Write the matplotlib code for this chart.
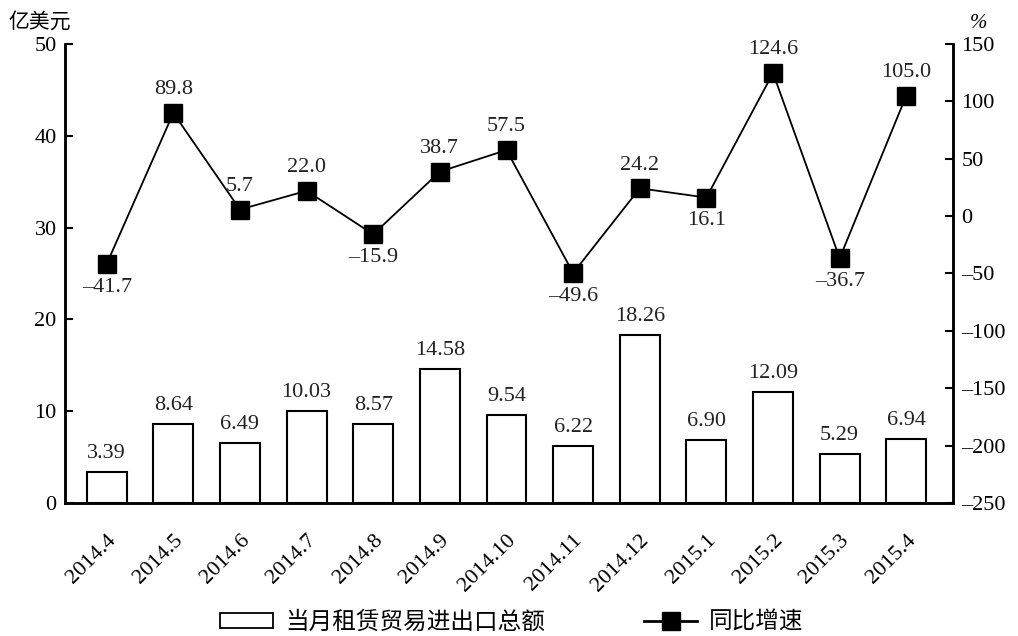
import matplotlib
matplotlib.use("Agg")
import matplotlib.pyplot as plt
from matplotlib.patches import Rectangle
from matplotlib.lines import Line2D
import numpy as np

months = ["2014.4", "2014.5", "2014.6", "2014.7", "2014.8", "2014.9", "2014.10",
          "2014.11", "2014.12", "2015.1", "2015.2", "2015.3", "2015.4"]
amount = [3.39, 8.64, 6.49, 10.03, 8.57, 14.58, 9.54, 6.22, 18.26, 6.90, 12.09, 5.29, 6.94]
amount_labels = ["3.39", "8.64", "6.49", "10.03", "8.57", "14.58", "9.54", "6.22",
                 "18.26", "6.90", "12.09", "5.29", "6.94"]
growth = [-41.7, 89.8, 5.7, 22.0, -15.9, 38.7, 57.5, -49.6, 24.2, 16.1, 124.6, -36.7, 105.0]
growth_labels = ["\u201341.7", "89.8", "5.7", "22.0", "\u201315.9", "38.7", "57.5",
                 "\u201349.6", "24.2", "16.1", "124.6", "\u201336.7", "105.0"]
label_below = [True, False, False, False, True, False, False, True, False, True, False, True, False]

left_ticks = [0, 10, 20, 30, 40, 50]
right_ticks = [-250, -200, -150, -100, -50, 0, 50, 100, 150]
right_tick_labels = ["\u2013250", "\u2013200", "\u2013150", "\u2013100", "\u201350", "0", "50", "100", "150"]

serif = ["Liberation Serif", "DejaVu Serif"]
cjk = ["Noto Sans CJK SC", "DejaVu Sans"]

fig = plt.figure(figsize=(10.18, 6.36), dpi=100)
ax = fig.add_axes([0.0639, 0.209, 0.8722, 0.722])
ax2 = ax.twinx()

x = np.arange(len(months))
ax.bar(x, amount, width=0.6, facecolor="white", edgecolor="black", linewidth=1.5, zorder=2)
for xi, v, s in zip(x, amount, amount_labels):
    ax.text(xi, v + 1.0, s, ha="center", va="bottom", fontsize=16, family=serif, color="#222222")

ax.set_xlim(-0.625, 12.7)
ax.set_ylim(0, 50)
ax.set_yticks(left_ticks)
ax.set_yticklabels([str(t) for t in left_ticks], family=serif, fontsize=16)
ax.set_xticks(x)
ax.set_xticklabels(months, rotation=45, ha="right", rotation_mode="anchor",
                   family=serif, fontsize=16)
ax.tick_params(axis="x", length=0, pad=20)
ax.tick_params(axis="y", direction="in", length=6, width=1.5, pad=6)

ax2.plot(x, growth, color="black", linewidth=1.3, marker="s", markersize=13,
         markerfacecolor="black", markeredgecolor="black", zorder=3)
for xi, v, s, below in zip(x, growth, growth_labels, label_below):
    if below:
        ax2.text(xi, v - 12, s, ha="center", va="top", fontsize=16, family=serif, color="#222222")
    else:
        ax2.text(xi, v + 12, s, ha="center", va="bottom", fontsize=16, family=serif, color="#222222")
ax2.set_ylim(-250, 150)
ax2.set_yticks(right_ticks)
ax2.set_yticklabels(right_tick_labels, family=serif, fontsize=16)
ax2.tick_params(axis="y", direction="in", length=6, width=1.5, pad=6)

for a in (ax, ax2):
    a.spines["top"].set_visible(False)
    for sp in ("left", "right", "bottom"):
        a.spines[sp].set_linewidth(1.8)

fig.text(0.008, 0.948, "亿美元", family=cjk, fontsize=15, ha="left", va="bottom")
fig.text(0.953, 0.948, "%", family=serif, fontsize=15, ha="left", va="bottom", style="italic")

handles = [Rectangle((0, 0), 1, 1, facecolor="white", edgecolor="black", linewidth=1.3),
           Line2D([0], [0], color="black", linewidth=2, marker="s", markersize=13)]
fig.legend(handles, ["当月租赁贸易进出口总额", "同比增速"], loc="center",
           bbox_to_anchor=(0.503, 0.022), ncol=2, frameon=False,
           prop={"family": cjk, "size": 17}, handlelength=2.25, handleheight=0.6,
           columnspacing=4.2, handletextpad=0.5)

fig.savefig("out.png", dpi=100)
